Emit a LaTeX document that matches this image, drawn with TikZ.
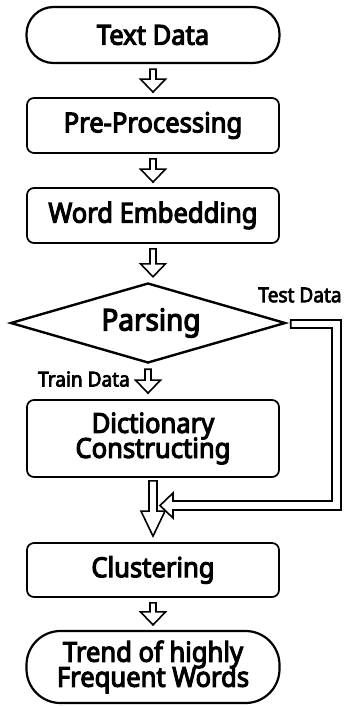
\documentclass[tikz,border=0pt]{standalone}
\usepackage{fontspec}
\setmainfont{Noto Sans}
\newfontfamily\labelfont{Noto Sans}[FakeBold=4, FakeStretch=0.93]
\newfontfamily\smalllabelfont{Noto Sans}[FakeBold=3.5, FakeStretch=0.93]
\usetikzlibrary{shapes.geometric,calc}
\tikzset{
  stadium/.style={draw, line width=2.2pt, rounded corners=27pt, minimum width=253pt, minimum height=56pt, inner sep=0pt, align=center},
  procbox/.style={draw, line width=1.7pt, rounded corners=7pt, minimum width=252pt, minimum height=55pt, inner sep=0pt, align=center},
  decision/.style={draw, line width=2.4pt, diamond, aspect=3.4, minimum width=275pt, minimum height=80pt, inner sep=0pt},
  hollow/.style={draw, line width=1.6pt, fill=white, line join=miter},
  mainlabel/.style={font=\labelfont\fontsize{27.5}{29}\selectfont},
  sidelabel/.style={font=\smalllabelfont\fontsize{20.5}{22}\selectfont, inner sep=0pt},
}
% hollow block arrow from the bottom of #1 down to the top of #2
\newcommand\blockdown[2]{%
  \draw[hollow] let \p1=($(#1.south)+(0,5)$), \p2=($(#2.north)+(0,-5)$) in
    (\x1-3pt,\y1) -- (\x1-3pt,\y2+13pt) -- (\x1-12.5pt,\y2+13pt) -- (\x1,\y2)
    -- (\x1+12.5pt,\y2+13pt) -- (\x1+3pt,\y2+13pt) -- (\x1+3pt,\y1) -- cycle;}
\begin{document}
\begin{tikzpicture}[x=1pt,y=-1pt]
\useasboundingbox (0,0) rectangle (347,706);
\node[stadium, mainlabel] (text) at (153,35) {Text Data};
\node[procbox, mainlabel] (pre) at (153,125.5) {Pre-Processing};
\node[procbox, mainlabel] (emb) at (153,215.5) {Word Embedding};
\node[decision] (parse) at (148,323) {};
\node[font=\labelfont\fontsize{30}{32}\selectfont] (parsetext) at (151,323) {Parsing};
\node[procbox, mainlabel, minimum height=77pt] (dict) at (153,438.5) {Dictionary\\[-4pt]Constructing};
\node[procbox, mainlabel, minimum height=54pt] (clu) at (153,570) {Clustering};
\node[stadium, mainlabel, minimum height=72pt, rounded corners=34pt] (trend) at (153,667) {Trend of highly\\[-4pt]Frequent Words};
\node[sidelabel] (test) at (300,295) {Test Data};
\node[sidelabel] (train) at (84,379) {Train Data};

\blockdown{text}{pre}
\blockdown{pre}{emb}
\blockdown{emb}{parse}
\draw[hollow] let \p1=($(parse.south)+(0,5)$), \p2=($(dict.north)+(0,-6)$) in
    (\x1-3pt,\y1) -- (\x1-3pt,\y2+13pt) -- (\x1-12.5pt,\y2+13pt) -- (\x1,\y2)
    -- (\x1+12.5pt,\y2+13pt) -- (\x1+3pt,\y2+13pt) -- (\x1+3pt,\y1) -- cycle;
\blockdown{clu}{trend}
% wide arrow from the dictionary down to clustering
\draw[hollow] let \p1=($(dict.south)+(0,3)$), \p2=($(clu.north)+(0,-6)$) in
    (\x1-4pt,\y1) -- (\x1-4pt,\y2+25pt) -- (\x1-12pt,\y2+25pt) -- (\x1,\y2)
    -- (\x1+12pt,\y2+25pt) -- (\x1+4pt,\y2+25pt) -- (\x1+4pt,\y1) -- cycle;
% test data route from the decision into the wide arrow
\coordinate (bend1) at (336.5,324);
\coordinate (bend2) at (336.5,505.5);
\coordinate (join) at (160,505.5);
\draw[hollow] let \p1=(parse.east), \p2=(bend1), \p3=(bend2), \p4=(join) in
    (\x1+4pt,\y2+4pt) -- (\x2+4.5pt,\y2+4pt) -- (\x2+4.5pt,\y3-4.5pt)
    -- (\x4+13pt,\y3-4.5pt) -- (\x4+13pt,\y3-12.5pt) -- (\x4,\y3)
    -- (\x4+13pt,\y3+12.5pt) -- (\x4+13pt,\y3+4.5pt) -- (\x2-4.5pt,\y3+4.5pt)
    -- (\x2-4.5pt,\y2-4pt) -- (\x1+4pt,\y2-4pt) -- cycle;
\end{tikzpicture}
\end{document}
